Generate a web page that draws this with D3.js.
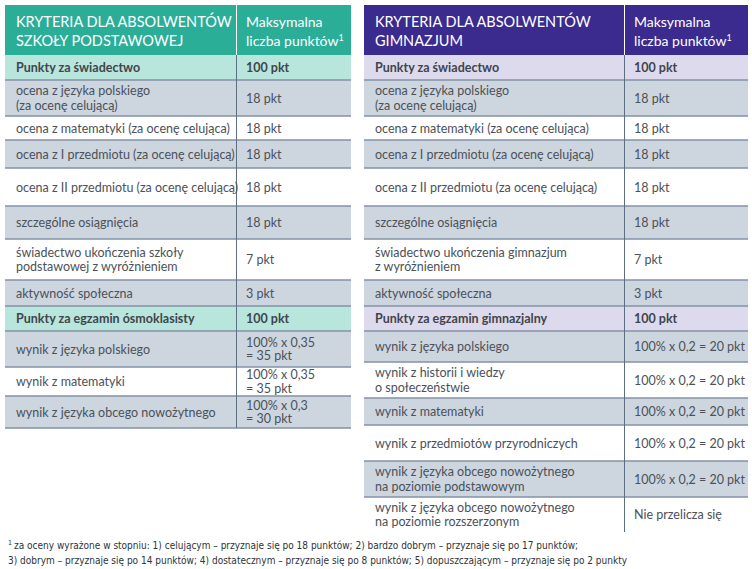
<!DOCTYPE html>
<html><head><meta charset="utf-8">
<script src="https://cdn.jsdelivr.net/npm/d3@7"></script>
<style>
html,body{margin:0;padding:0;background:#fff;}
svg{display:block;}
</style></head>
<body>
<svg id="c" width="752" height="569"></svg>
<script>
// ---------- DATA ----------
const leftHeader = ["KRYTERIA DLA ABSOLWENTÓW", "SZKOŁY PODSTAWOWEJ"];
const rightHeader = ["KRYTERIA DLA ABSOLWENTÓW", "GIMNAZJUM"];
const pointsHeader = ["Maksymalna", "liczba punktów"];

const leftLabels = [
  ["Punkty za świadectwo"],
  ["ocena z języka polskiego", "(za ocenę celującą)"],
  ["ocena z matematyki (za ocenę celująca)"],
  ["ocena z I przedmiotu (za ocenę celującą)"],
  ["ocena z II przedmiotu (za ocenę celującą)"],
  ["szczególne osiągnięcia"],
  ["świadectwo ukończenia szkoły", "podstawowej z wyróżnieniem"],
  ["aktywność społeczna"],
  ["Punkty za egzamin ósmoklasisty"],
  ["wynik z języka polskiego"],
  ["wynik z matematyki"],
  ["wynik z języka obcego nowożytnego"]
];
const leftValues = [
  ["100 pkt"], ["18 pkt"], ["18 pkt"], ["18 pkt"], ["18 pkt"], ["18 pkt"],
  ["7 pkt"], ["3 pkt"], ["100 pkt"],
  ["100% x 0,35", "= 35 pkt"], ["100% x 0,35", "= 35 pkt"], ["100% x 0,3", "= 30 pkt"]
];
const leftKinds = ["section","grey","white","grey","white","grey","white","grey","section","grey","white","grey"];

const rightLabels = [
  ["Punkty za świadectwo"],
  ["ocena z języka polskiego", "(za ocenę celującą)"],
  ["ocena z matematyki (za ocenę celująca)"],
  ["ocena z I przedmiotu (za ocenę celującą)"],
  ["ocena z II przedmiotu (za ocenę celującą)"],
  ["szczególne osiągnięcia"],
  ["świadectwo ukończenia gimnazjum", "z wyróżnieniem"],
  ["aktywność społeczna"],
  ["Punkty za egzamin gimnazjalny"],
  ["wynik z języka polskiego"],
  ["wynik z historii i wiedzy", "o społeczeństwie"],
  ["wynik z matematyki"],
  ["wynik z przedmiotów przyrodniczych"],
  ["wynik z języka obcego nowożytnego", "na poziomie podstawowym"],
  ["wynik z języka obcego nowożytnego", "na poziomie rozszerzonym"]
];
const rightValues = [
  ["100 pkt"], ["18 pkt"], ["18 pkt"], ["18 pkt"], ["18 pkt"], ["18 pkt"],
  ["7 pkt"], ["3 pkt"], ["100 pkt"],
  ["100% x 0,2 = 20 pkt"], ["100% x 0,2 = 20 pkt"], ["100% x 0,2 = 20 pkt"],
  ["100% x 0,2 = 20 pkt"], ["100% x 0,2 = 20 pkt"], ["Nie przelicza się"]
];
const rightKinds = ["section","grey","white","grey","white","grey","white","grey","section","grey","white","grey","white","grey","white"];

const footnote = [
  "za oceny wyrażone w stopniu: 1) celującym – przyznaje się po 18 punktów; 2) bardzo dobrym – przyznaje się po 17 punktów;",
  "3) dobrym – przyznaje się po 14 punktów; 4) dostatecznym – przyznaje się po 8 punktów; 5) dopuszczającym – przyznaje się po 2 punkty"
];

// ---------- LAYOUT ----------
const leftBounds = [55,80,116,140,168,206,239,280,306,331,367,396,428];
const rightBounds = [55,80,116,140,168,206,239,280,306,331,362,398,425,461,497,532];

const svg = d3.select("#c");
const FONT = "Lato, 'Open Sans', sans-serif";

function drawTable(cfg) {
  const g = svg.append("g");
  const x = d3.scaleOrdinal().domain(["c1","c2","end"]).range([cfg.x0, cfg.xDiv, cfg.x1]);
  const n = cfg.labels.length;
  const idx = d3.range(n);
  const y = i => cfg.bounds[i];
  const h = i => cfg.bounds[i+1] - cfg.bounds[i];
  const fill = k => k === "section" ? cfg.sectionFill : (k === "grey" ? "#cdd5df" : "#ffffff");

  // header
  g.append("rect").attr("x", x("c1")).attr("y", 5).attr("width", x("end") - x("c1"))
    .attr("height", cfg.bounds[0] - 5).attr("fill", cfg.headerFill);
  g.append("line").attr("x1", x("c2") + 0.5).attr("x2", x("c2") + 0.5).attr("y1", 5).attr("y2", cfg.bounds[0])
    .attr("stroke", "#ffffff").attr("stroke-width", 1);
  const ht = g.append("text").attr("font-family", FONT).attr("font-size", 14.5).attr("fill", "#fff");
  cfg.header.forEach((t, i) => ht.append("tspan").attr("x", x("c1") + 11).attr("y", 27 + i * 19).text(t));
  const ht2 = g.append("text").attr("font-family", FONT).attr("font-size", 14).attr("fill", "#fff");
  pointsHeader.forEach((t, i) => {
    ht2.append("tspan").attr("x", x("c2") + 10).attr("y", 27 + i * 19).text(t);
  });
  ht2.append("tspan").attr("font-size", 9).attr("dy", -5).text("1");

  // rows
  g.selectAll("rect.row").data(idx).join("rect").attr("class", "row")
    .attr("x", x("c1")).attr("y", y).attr("width", x("end") - x("c1")).attr("height", h)
    .attr("fill", i => fill(cfg.kinds[i]));

  // horizontal rules
  const rules = idx.slice(1).map(i => y(i)).concat(cfg.lastRule ? [y(n)] : []);
  g.selectAll("line.rule").data(rules).join("line").attr("class", "rule")
    .attr("x1", x("c1")).attr("x2", x("end")).attr("y1", d => d).attr("y2", d => d)
    .attr("stroke", "#8392a6").attr("stroke-width", 1.6);

  // vertical divider
  g.append("line").attr("x1", x("c2") + 0.5).attr("x2", x("c2") + 0.5)
    .attr("y1", cfg.bounds[0]).attr("y2", cfg.bounds[n])
    .attr("stroke", "#5d6d82").attr("stroke-width", 1);

  function cellText(lines, cx, i, bold, lh) {
    const cy = y(i) + h(i) / 2;
    const t = g.append("text").attr("font-family", FONT).attr("font-size", 12.5)
      .attr("fill", bold ? "#3f454c" : "#4b5159").attr("font-weight", bold ? 700 : 400);
    const off = (lines.length - 1) * lh / 2;
    lines.forEach((s, k) => t.append("tspan").attr("x", cx).attr("y", cy - off + k * lh + 4.5).text(s));
  }
  idx.forEach(i => {
    const bold = cfg.kinds[i] === "section";
    cellText(cfg.labels[i], x("c1") + 11, i, bold, 14.5);
    cellText(cfg.values[i], x("c2") + 10, i, bold, 13.5);
  });
}

drawTable({x0: 5, xDiv: 236, x1: 351, bounds: leftBounds, labels: leftLabels, values: leftValues,
  kinds: leftKinds, header: leftHeader, headerFill: "#2aae98", sectionFill: "#b9e6dc", lastRule: true});
drawTable({x0: 364, xDiv: 624, x1: 748, bounds: rightBounds, labels: rightLabels, values: rightValues,
  kinds: rightKinds, header: rightHeader, headerFill: "#3b2b8e", sectionFill: "#dedaee", lastRule: false});

// footnote
const fn = svg.append("text").attr("font-family", "'Liberation Sans Narrow', 'DejaVu Sans Condensed', sans-serif")
  .attr("font-size", 10).attr("fill", "#2e3338").attr("font-stretch", "condensed");
fn.append("tspan").attr("x", 8).attr("y", 549).attr("font-size", 7).attr("dy", -4).text("1");
fn.append("tspan").attr("dx", 2).attr("dy", 4).text(footnote[0]);
fn.append("tspan").attr("x", 8).attr("y", 564).text(footnote[1]);
</script>
</body></html>
